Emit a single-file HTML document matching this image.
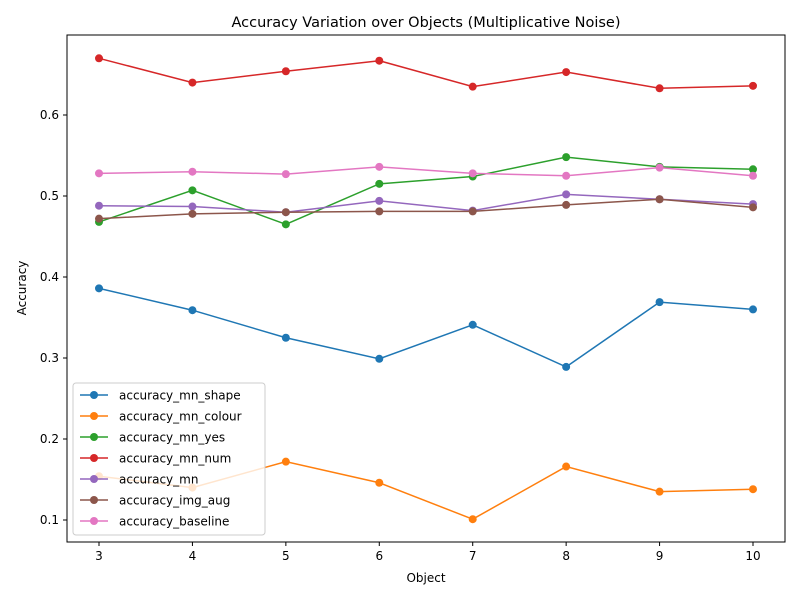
<!DOCTYPE html>
<html><head><meta charset="utf-8"><style>
body{margin:0;background:#fff}
svg text{font-family:"DejaVu Sans","Liberation Sans",sans-serif;fill:#000}
</style></head><body>
<svg id="chart" width="800" height="600">
<rect width="800" height="600" fill="#fff"/>
<text x="426" y="27" font-size="14.5" text-anchor="middle">Accuracy Variation over Objects (Multiplicative Noise)</text>
<g id="plot"></g>
<rect x="67" y="35" width="718" height="507" fill="none" stroke="#000" stroke-width="1"/>
<text x="426" y="582" font-size="12" text-anchor="middle">Object</text>
<text x="26" y="288" font-size="12" text-anchor="middle" transform="rotate(-90 26 288)">Accuracy</text>
</svg>
<script>
const categories=[3,4,5,6,7,8,9,10];
const yTicks=[0.1,0.2,0.3,0.4,0.5,0.6];
const seriesNames=["accuracy_mn_shape","accuracy_mn_colour","accuracy_mn_yes","accuracy_mn_num","accuracy_mn","accuracy_img_aug","accuracy_baseline"];
const colors=["#1f77b4","#ff7f0e","#2ca02c","#d62728","#9467bd","#8c564b","#e377c2"];
const shape=[0.386,0.359,0.325,0.299,0.341,0.289,0.369,0.360];
const colour=[0.154,0.140,0.172,0.146,0.101,0.166,0.135,0.138];
const yes=[0.468,0.507,0.465,0.515,0.524,0.548,0.536,0.533];
const num=[0.670,0.640,0.654,0.667,0.635,0.653,0.633,0.636];
const mn=[0.488,0.487,0.480,0.494,0.482,0.502,0.496,0.490];
const imgAug=[0.472,0.478,0.480,0.481,0.481,0.489,0.496,0.486];
const baseline=[0.528,0.530,0.527,0.536,0.528,0.525,0.535,0.525];
const allSeries=[shape,colour,yes,num,mn,imgAug,baseline];
const NS="http://www.w3.org/2000/svg";
const xS=v=>99+(v-3)*(753-99)/7;
const yS=v=>115+(0.6-v)*810;
const g=document.getElementById('plot');
function mk(t,a,p){const e=document.createElementNS(NS,t);for(const k in a)e.setAttribute(k,a[k]);(p||g).appendChild(e);return e;}
categories.forEach(c=>{
 const t=mk('line',{x1:xS(c),x2:xS(c),y1:542,y2:546,stroke:'#000'});
 
 
 const l=mk('text',{x:xS(c),y:560,'font-size':12,'text-anchor':'middle'});l.textContent=c;
 
 
});
yTicks.forEach(v=>{
 const t=mk('line',{x1:63,x2:67,y1:yS(v),y2:yS(v),stroke:'#000'});
 
 
 const l=mk('text',{x:59,y:yS(v)+4,'font-size':12,'text-anchor':'end'});l.textContent=v.toFixed(1);
 
 
});
allSeries.forEach((s,i)=>{
 const sg=mk('g',{});
 
 
 const p=mk('polyline',{points:s.map((v,j)=>xS(categories[j])+','+yS(v)).join(' '),fill:'none',stroke:colors[i],'stroke-width':1.5},sg);
 
 
 s.forEach((v,j)=>{const c=mk('circle',{cx:xS(categories[j]),cy:yS(v),r:4,fill:colors[i]},sg);
 
 });
});
const lg=mk('g',{});


mk('rect',{x:73,y:383,width:192,height:152,rx:3,fill:'#fff','fill-opacity':0.8,stroke:'#ccc'},lg);
seriesNames.forEach((n,i)=>{
 const y=395+i*21;
 const e=mk('g',{},lg);
 
 
 mk('line',{x1:80,x2:108,y1:y,y2:y,stroke:colors[i],'stroke-width':1.5},e);
 mk('circle',{cx:94,cy:y,r:4,fill:colors[i]},e);
 const t=mk('text',{x:119,y:y+4.5,'font-size':12},e);t.textContent=n;
});
</script>
</body></html>
